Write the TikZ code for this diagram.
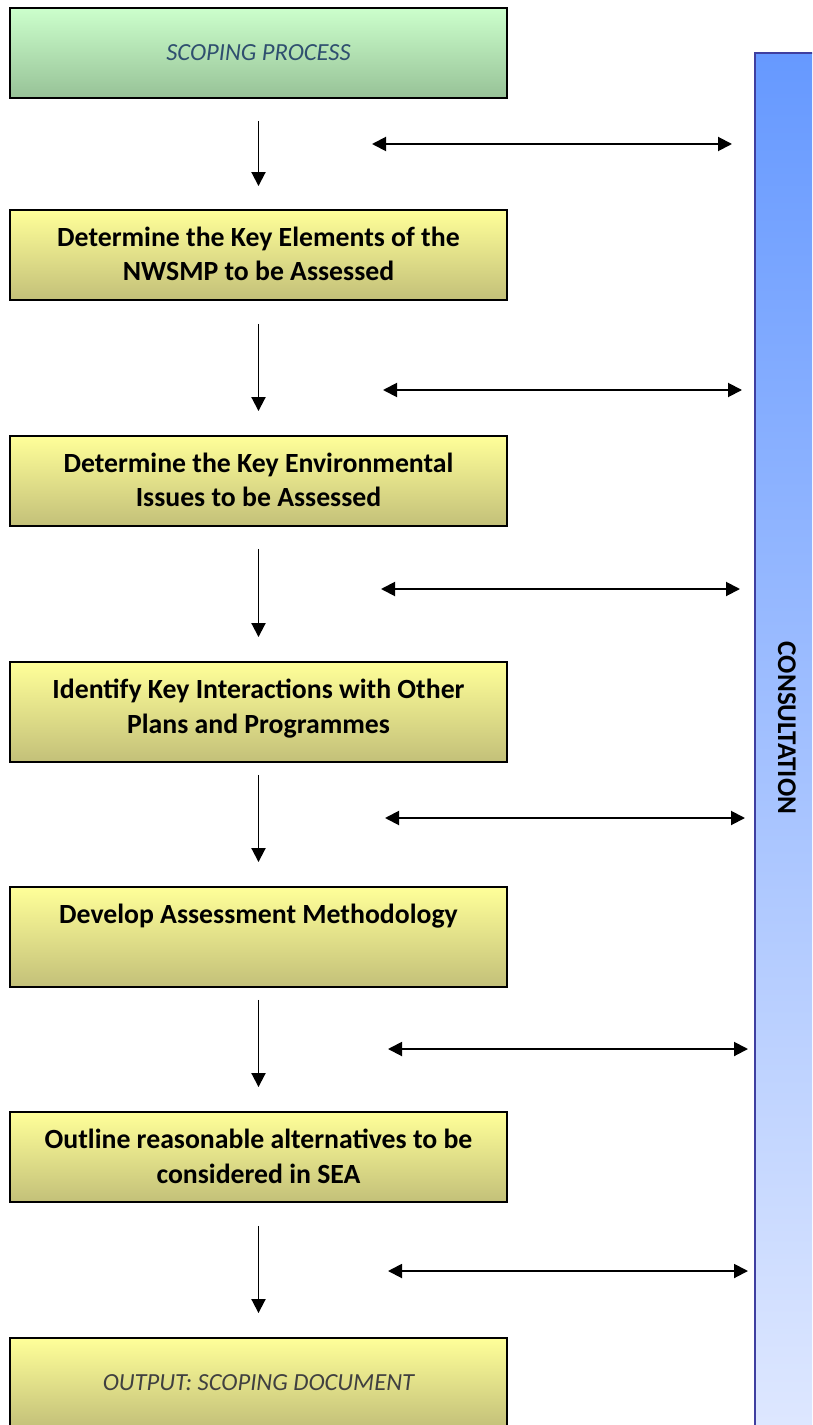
\documentclass[tikz,border=0pt]{standalone}
\usepackage{fontspec}
\setmainfont{Carlito}
\usetikzlibrary{arrows.meta,positioning}

\definecolor{greentop}{HTML}{CCFFCC}
\definecolor{greenbottom}{HTML}{97C297}
\definecolor{yellowtop}{HTML}{FFFF99}
\definecolor{yellowbottom}{HTML}{C3C079}
\definecolor{bluetop}{HTML}{6699FF}
\definecolor{bluebottom}{HTML}{DFE8FF}
\definecolor{blueedge}{HTML}{3F3FA0}
\definecolor{scopeink}{HTML}{2F4F6F}
\definecolor{outputink}{HTML}{404040}

\tikzset{
    stepbox/.style={draw=black, line width=1.1pt, minimum width=9.94cm, minimum height=1.8cm,
        top color=yellowtop, bottom color=yellowbottom, inner sep=0pt},
    steptext/.style={font=\fontsize{15.8}{19.4}\selectfont\bfseries, align=center, inner sep=0pt},
    flow/.style={-{Triangle[length=0.28cm,width=0.28cm]}, line width=1.1pt},
    talk/.style={{Triangle[length=0.28cm,width=0.28cm]}-{Triangle[length=0.28cm,width=0.28cm]}, line width=1.1pt},
}

\begin{document}
\begin{tikzpicture}[x=0.02cm, y=-0.02cm]
    % Page size; the last box and the column run off the bottom
    \useasboundingbox (0,0) rectangle (812,1425);
    \clip (0,0) rectangle (812,1425);

    % Consultation column on the right
    \node[draw=blueedge, line width=1.1pt, minimum width=1.32cm, minimum height=27.8cm,
        top color=bluetop, bottom color=bluebottom, inner sep=0pt] (consult) at (788,748) {};
    \node[rotate=-90, font=\fontsize{15.4}{18}\selectfont\bfseries] (consulttext) at (787,728) {CONSULTATION};

    % The steps, top to bottom
    \node[stepbox, top color=greentop, bottom color=greenbottom,
        font=\fontsize{14}{16}\selectfont\itshape, text=scopeink] (scope) at (258.5,53) {SCOPING PROCESS};
    \node[stepbox] (elements) at (258.5,255) {};
    \node[stepbox] (issues) at (258.5,481) {};
    \node[stepbox, minimum height=2cm] (links) at (258.5,712) {};
    \node[stepbox, minimum height=2cm] (method) at (258.5,937) {};
    \node[stepbox] (options) at (258.5,1157) {};
    \node[stepbox, font=\fontsize{14}{16}\selectfont\itshape, text=outputink] (output) at (258.5,1383) {OUTPUT: SCOPING DOCUMENT};

    % Box texts sit near the top edge
    \node[steptext, below=0.36cm of elements.north] (elementstext) {Determine the Key Elements of the\\NWSMP to be Assessed};
    \node[steptext, below=0.36cm of issues.north] (issuestext) {Determine the Key Environmental\\Issues to be Assessed};
    \node[steptext, below=0.36cm of links.north] (linkstext) {Identify Key Interactions with Other\\Plans and Programmes};
    \node[steptext, below=0.36cm of method.north] (methodtext) {Develop Assessment Methodology};
    \node[steptext, below=0.36cm of options.north] (optionstext) {Outline reasonable alternatives to be\\considered in SEA};

    % Arrows down the chain
    \draw[flow] ([yshift=-0.44cm]scope.south) -- ([yshift=0.46cm]elements.north);
    \draw[flow] ([yshift=-0.46cm]elements.south) -- ([yshift=0.48cm]issues.north);
    \draw[flow] ([yshift=-0.44cm]issues.south) -- ([yshift=0.48cm]links.north);
    \draw[flow] ([yshift=-0.24cm]links.south) -- ([yshift=0.48cm]method.north);
    \draw[flow] ([yshift=-0.24cm]method.south) -- ([yshift=0.48cm]options.north);
    \draw[flow] ([yshift=-0.46cm]options.south) -- ([yshift=0.48cm]output.north);

    % Two-way links to the consultation column
    \foreach \y/\xa/\xb [count=\i] in {144/372/732, 390/383/742, 589/381/740,
                                       818/385/745, 1049/388/748, 1271/388/748} {
        \coordinate (talkL\i) at (\xa,\y);
        \coordinate (talkR\i) at (\xb,\y);
        \draw[talk] (talkL\i) -- (talkR\i);
    }
\end{tikzpicture}
\end{document}
